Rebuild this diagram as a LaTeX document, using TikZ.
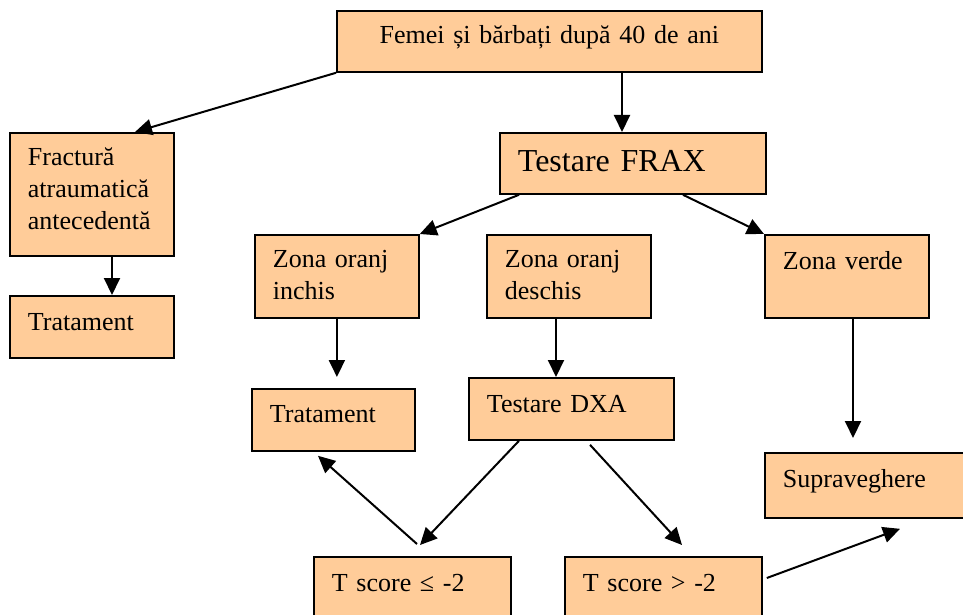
\documentclass[tikz,border=0pt]{standalone}
\usepackage{fontspec}
\setmainfont{Liberation Serif}
\usetikzlibrary{arrows.meta, calc}
\definecolor{boxpeach}{HTML}{FFCC99}

\begin{document}
\begin{tikzpicture}[
    x=0.5pt, y=-0.5pt,
    every node/.style={font=\fontsize{13}{16}\selectfont},
    box/.style={draw, fill=boxpeach, line width=0.9pt, anchor=north west, inner xsep=9pt, inner ysep=0pt, align=left, text height=17pt},
    arr/.style={-{Triangle[length=8.5pt, width=8pt]}, line width=1pt}
]
    \clip (0,0) rectangle (963,615);

    \node[box, align=center, text width=194.5pt, text height=16.5pt, text depth=14pt] (top) at (336,10) {Femei și bărbați după 40 de ani};
    \node[box, font=\fontsize{16}{19}\selectfont, text width=115pt, text height=19.5pt, text depth=11pt] (frax) at (499,132) {Testare FRAX};
    \node[box, text width=64pt, text height=16.5pt, text depth=45pt] (frac) at (9,132) {Fractură\\atraumatică\\antecedentă};
    \node[box, text width=64pt, text height=17.5pt, text depth=13.5pt] (trat1) at (9,295) {Tratament};

    \node[box, text width=64pt, text height=16.5pt, text depth=25pt] (inchis) at (254,234) {Zona oranj\\inchis};
    \node[box, text width=64pt, text height=16.5pt, text depth=25pt] (deschis) at (486,234) {Zona oranj\\deschis};
    \node[box, text width=64pt, text height=17.5pt, text depth=24pt] (verde) at (764,234) {Zona verde};

    \node[box, text width=63.5pt, text depth=14pt] (trat2) at (251,388) {Tratament};
    \node[box, text width=84.5pt, text height=17.5pt, text depth=13.5pt] (dxa) at (468,377) {Testare DXA};
    \node[box, text width=92pt, text height=17.5pt, text depth=15pt] (superv) at (764,452) {Supraveghere};

    \node[box, text width=80.5pt, text height=17.5pt, text depth=25pt] (tle) at (313,556) {T score ≤ -2};
    \node[box, text width=80.5pt, text height=17.5pt, text depth=25pt] (tgt) at (564,556) {T score > -2};

    % arrows
    \draw[arr] (top.south west) -- ($(frac.north west)+(126,0)$);
    \draw[arr] ($(top.south west)+(286,0)$) -- ($(frax.north west)+(123,0)$);
    \draw[arr] ($(frac.south west)+(103,0)$) -- ($(trat1.north west)+(103,0)$);
    \draw[arr] ($(frax.south west)+(20,0)$) -- (inchis.north east);
    \draw[arr] ($(frax.south west)+(184,0)$) -- (verde.north west);
    \draw[arr] (inchis.south) -- ($(inchis.south |- trat2.north)+(0,-11)$);
    \draw[arr] ($(deschis.south west)+(70,0)$) -- ($(dxa.north west)+(88,0)$);
    \draw[arr] ($(verde.south west)+(89,0)$) -- ($(superv.north west)+(89,-14)$);
    \draw[arr] ($(dxa.south west)+(51,0)$) -- ($(tle.north west)+(107,-11)$);
    \draw[arr] ($(dxa.south west)+(122,4)$) -- ($(tgt.north west)+(118,-11)$);
    \draw[arr] ($(tle.north west)+(104,-12)$) -- ($(trat2.south west)+(67,4)$);
    \draw[arr] ($(tgt.north east)+(4,22)$) -- ($(superv.south west)+(136,10)$);
\end{tikzpicture}
\end{document}
